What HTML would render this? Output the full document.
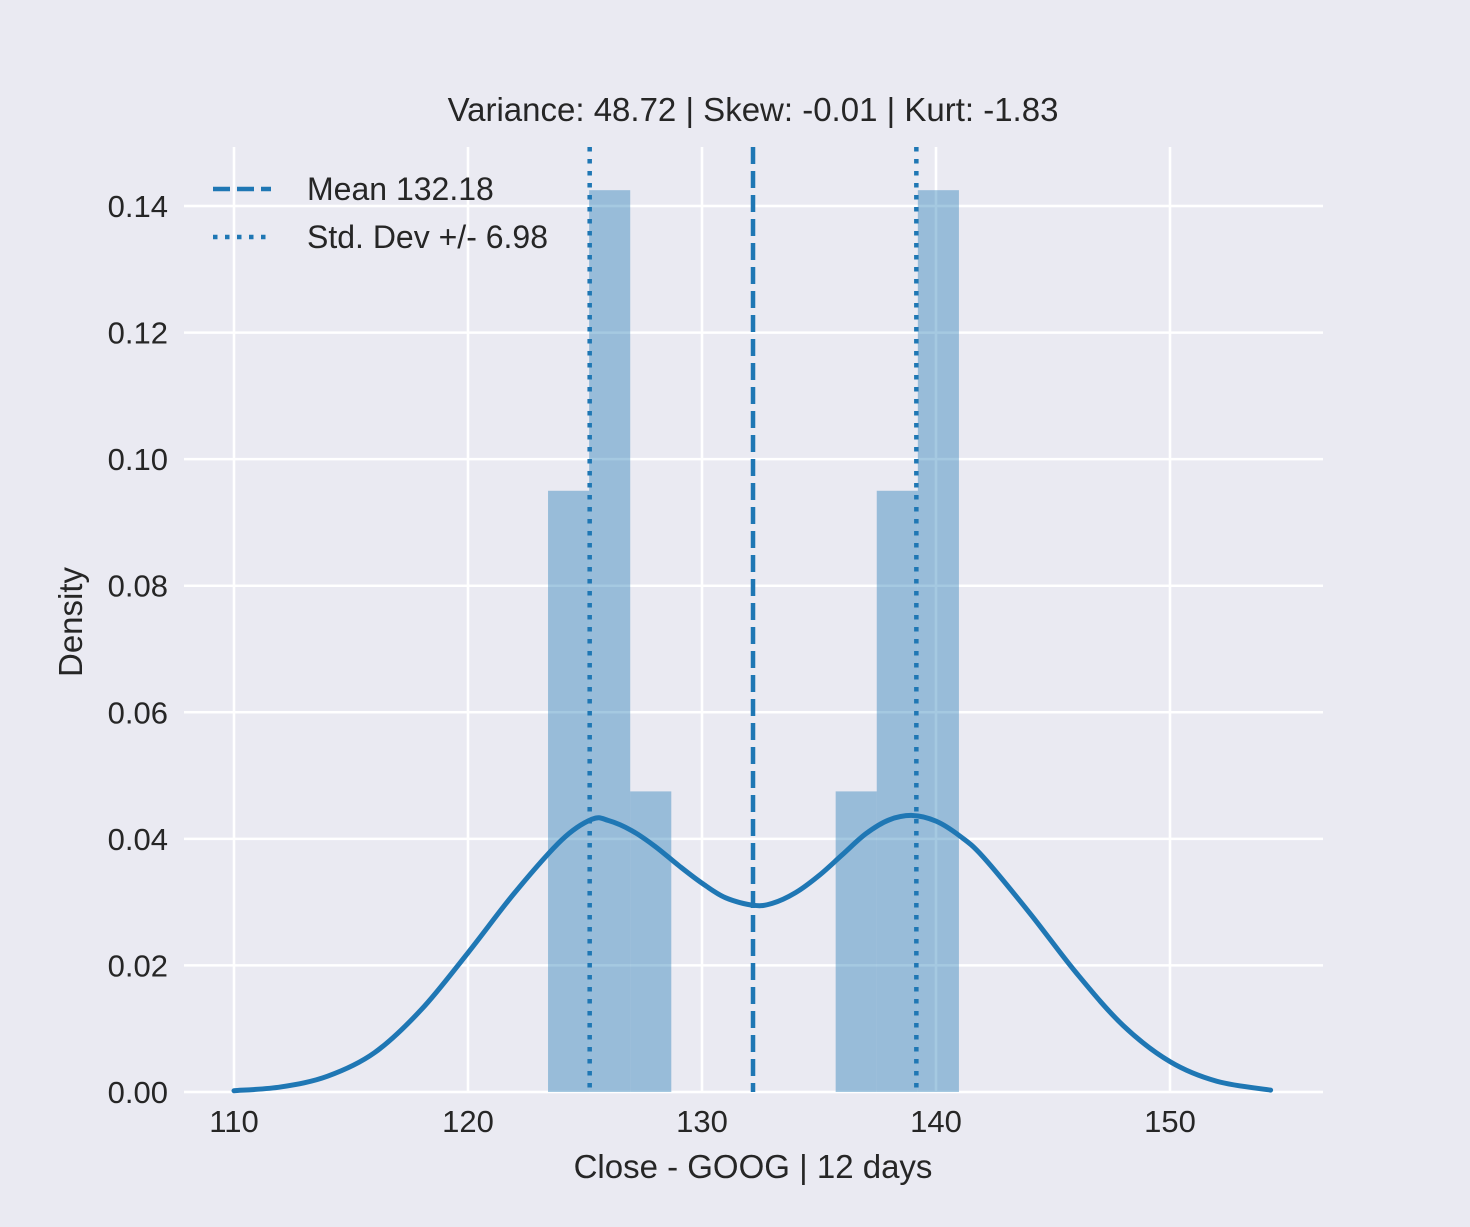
<!DOCTYPE html>
<html><head><meta charset="utf-8"><style>
body{margin:0;background:#eaeaf2;}
svg{display:block;font-family:"Liberation Sans",sans-serif;}
</style></head><body>
<svg id="c" width="1470" height="1227">
<rect width="1470" height="1227" fill="#eaeaf2"/>
<rect x="184" y="147" width="1139" height="945" fill="#eaeaf2"/>
<g id="grid"></g><g id="bars"></g><g id="lines"></g><g id="ticks"></g>
<text x="753" y="121" text-anchor="middle" font-size="33" fill="#262626">Variance: 48.72 | Skew: -0.01 | Kurt: -1.83</text>
<text x="753" y="1178" text-anchor="middle" font-size="33" fill="#262626">Close - GOOG | 12 days</text>
<text transform="translate(82,622) rotate(-90)" text-anchor="middle" font-size="33" fill="#262626">Density</text>
<g>
<g><line x1="213" y1="189" x2="271" y2="189" stroke="#1f77b4" stroke-width="4.5" stroke-dasharray="17,7"/><text x="307" y="200" font-size="32" fill="#262626">Mean 132.18</text></g>
<g><line x1="213" y1="237" x2="271" y2="237" stroke="#1f77b4" stroke-width="4.5" stroke-dasharray="4.5,7.5"/><text x="307" y="248" font-size="32" fill="#262626">Std. Dev +/- 6.98</text></g>
</g>
</svg>
<script>
const binEdgesStart=123.42, binWidth=1.756;
const binDensities=[0.095,0.1425,0.0475,0,0,0,0,0.0475,0.095,0.1425];
const kdeX=[110,112,114,116,118,120,122,124,125.3,126,127,128,129,130,131,132.2,133,134,135,136,137,138,139,140,141,142,144,146,148,150,152,154.3];
const kdeY=[0.0002,0.0008,0.0025,0.0062,0.013,0.022,0.0315,0.0398,0.0431,0.0429,0.0413,0.0388,0.0358,0.033,0.0307,0.0295,0.0298,0.0315,0.0342,0.0375,0.0408,0.043,0.0437,0.0428,0.0405,0.0372,0.0283,0.0188,0.0105,0.0048,0.0017,0.0003];
const meanVal=132.18, stdVal=6.98;
const xTicks=[110,120,130,140,150];
const yTicks=[0,0.02,0.04,0.06,0.08,0.10,0.12,0.14];
const X=v=>234+(v-110)*23.4, Y=v=>1092-v*6328.6;
const NS="http://www.w3.org/2000/svg";
function mk(p,t,a){const e=document.createElementNS(NS,t);for(const k in a)e.setAttribute(k,a[k]);document.getElementById(p).appendChild(e);return e;}
xTicks.forEach(t=>{const l=mk('grid','line',{x1:X(t),x2:X(t),y1:147,y2:1092,stroke:'#fff','stroke-width':2.5});


const tx=mk('ticks','text',{x:X(t),y:1132,'text-anchor':'middle','font-size':31,fill:'#262626'});tx.textContent=t;

});
yTicks.forEach(t=>{const l=mk('grid','line',{x1:184,x2:1323,y1:Y(t),y2:Y(t),stroke:'#fff','stroke-width':2.5});


const tx=mk('ticks','text',{x:168,y:Y(t)+11,'text-anchor':'end','font-size':31,fill:'#262626'});tx.textContent=t.toFixed(2);

});
binDensities.forEach((d,i)=>{if(!d)return;const x0=X(binEdgesStart+i*binWidth),x1=X(binEdgesStart+(i+1)*binWidth);
const r=mk('bars','rect',{x:x0,y:Y(d),width:x1-x0,height:Y(0)-Y(d),fill:'#1f77b4','fill-opacity':0.4});

});
const P=kdeX.map((x,i)=>[X(x),Y(kdeY[i])]);
let d='M'+P[0][0]+','+P[0][1];
for(let i=0;i<P.length-1;i++){const p0=P[i-1]||P[i],p1=P[i],p2=P[i+1],p3=P[i+2]||p2;
d+=` C${p1[0]+(p2[0]-p0[0])/6},${p1[1]+(p2[1]-p0[1])/6} ${p2[0]-(p3[0]-p1[0])/6},${p2[1]-(p3[1]-p1[1])/6} ${p2[0]},${p2[1]}`;}
const kde=mk('lines','path',{d:d,fill:'none',stroke:'#1f77b4','stroke-width':5,'stroke-linecap':'round'});


const m=mk('lines','line',{x1:X(meanVal),x2:X(meanVal),y1:147,y2:1092,stroke:'#1f77b4','stroke-width':4.5,'stroke-dasharray':'17,7'});


[meanVal-stdVal,meanVal+stdVal].forEach(v=>{const s=mk('lines','line',{x1:X(v),x2:X(v),y1:147,y2:1092,stroke:'#1f77b4','stroke-width':4.5,'stroke-dasharray':'4.5,7.5'});

});
</script>
</body></html>
